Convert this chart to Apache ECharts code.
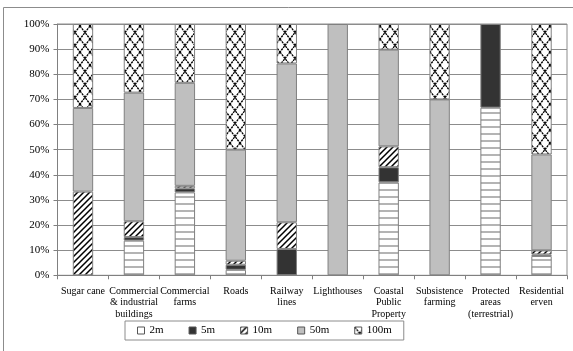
<!DOCTYPE html>
<html>
<head>
<meta charset="utf-8">
<script src="https://cdn.jsdelivr.net/npm/echarts@6/dist/echarts.min.js"></script>
<style>
html,body{margin:0;padding:0;background:#fff;}
#chart{width:573px;height:351px;}
</style>
</head>
<body>
<div id="chart"></div>
<script>
const categories = ["Sugar cane", "Commercial\n& industrial\nbuildings", "Commercial\nfarms", "Roads", "Railway\nlines", "Lighthouses", "Coastal\nPublic\nProperty", "Subsistence\nfarming", "Protected\nareas\n(terrestrial)", "Residential\nerven"];
const seriesNames = ["2m", "5m", "10m", "50m", "100m"];
const values2m   = [0,    13.8, 33.0, 2.2,  0,    0,   37.0, 0,  66.7, 7.7];
const values5m   = [0,    1.4,  1.6,  2.0,  10.5, 0,   6.0,  0,  33.3, 0.6];
const values10m  = [33.3, 6.3,  1.0,  1.6,  10.6, 0,   8.3,  0,  0,    1.6];
const values50m  = [33.3, 51.2, 41.0, 44.2, 63.2, 100, 38.5, 70, 0,    38.2];
const values100m = [33.4, 27.3, 23.4, 50.0, 15.7, 0,   10.2, 30, 0,    51.9];
const yTicks = ["0%","10%","20%","30%","40%","50%","60%","70%","80%","90%","100%"];

function makeCanvas(w, h, draw) {
  const c = document.createElement('canvas');
  c.width = w; c.height = h;
  const ctx = c.getContext('2d');
  draw(ctx, w, h);
  return c;
}
const pat2m = makeCanvas(4, 7, (ctx, w, h) => {
  ctx.fillStyle = '#fff'; ctx.fillRect(0, 0, w, h);
  ctx.fillStyle = '#b4b4b4'; ctx.fillRect(0, 0, w, 2);
});
const pat10m = makeCanvas(6, 6, (ctx, w, h) => {
  ctx.fillStyle = '#fff'; ctx.fillRect(0, 0, w, h);
  ctx.strokeStyle = '#000'; ctx.lineWidth = 1.5;
  ctx.beginPath();
  ctx.moveTo(0, h); ctx.lineTo(w, 0);
  ctx.moveTo(-1, 1); ctx.lineTo(1, -1);
  ctx.moveTo(w - 1, h + 1); ctx.lineTo(w + 1, h - 1);
  ctx.stroke();
});
const pat100m = makeCanvas(10, 13, (ctx, w, h) => {
  ctx.fillStyle = '#fff'; ctx.fillRect(0, 0, w, h);
  ctx.strokeStyle = '#000'; ctx.lineWidth = 1.3;
  ctx.setLineDash([2.2, 0.8]);
  ctx.beginPath();
  ctx.moveTo(0, 0); ctx.lineTo(w, h);
  ctx.moveTo(w, 0); ctx.lineTo(0, h);
  ctx.stroke();
});

const fills = [
  {image: pat2m, repeat: 'repeat'},
  '#333333',
  {image: pat10m, repeat: 'repeat'},
  '#bfbfbf',
  {image: pat100m, repeat: 'repeat'}
];
const allValues = [values2m, values5m, values10m, values50m, values100m];
const font = 'Liberation Serif';

const chart = echarts.init(document.getElementById('chart'), null, {renderer: 'canvas'});
chart.setOption({
  animation: false,
  backgroundColor: '#fff',
  graphic: [{
    type: 'rect', silent: true, z: -10,
    shape: {x: 3.5, y: 7.5, width: 620, height: 400},
    style: {fill: 'none', stroke: '#8c8c8c', lineWidth: 1}
  }],
  grid: {left: 57.5, top: 24, right: 6, bottom: 75.7, show: true, borderColor: '#8c8c8c', borderWidth: 1, backgroundColor: 'transparent'},
  legend: {
    left: 125, top: 321,
    padding: [4, 12],
    borderColor: '#8c8c8c', borderWidth: 1,
    itemWidth: 7, itemHeight: 7, itemGap: 25,
    icon: 'rect',
    textStyle: {fontFamily: font, fontSize: 11, color: '#000'},
    data: [
      {name: '2m', itemStyle: {color: '#fff', borderColor: '#555', borderWidth: 1}},
      {name: '5m', itemStyle: {borderColor: '#555', borderWidth: 1}},
      {name: '10m', itemStyle: {borderColor: '#555', borderWidth: 1}},
      {name: '50m', itemStyle: {borderColor: '#555', borderWidth: 1}},
      {name: '100m', itemStyle: {borderColor: '#555', borderWidth: 1}}
    ]
  },
  xAxis: {
    type: 'category',
    data: categories,
    axisLine: {lineStyle: {color: '#808080'}},
    axisTick: {show: true, length: 4, lineStyle: {color: '#808080'}},
    axisLabel: {fontFamily: font, fontSize: 10, color: '#000', lineHeight: 11.5, margin: 10, interval: 0}
  },
  yAxis: {
    type: 'value', min: 0, max: 100, interval: 10,
    axisLine: {show: true, lineStyle: {color: '#808080'}},
    axisTick: {show: true, length: 4, lineStyle: {color: '#808080'}},
    axisLabel: {fontFamily: font, fontSize: 11, color: '#000', margin: 8,
      formatter: v => yTicks[Math.round(v / 10)]},
    splitLine: {lineStyle: {color: '#8c8c8c', width: 1}}
  },
  series: seriesNames.map((name, i) => ({
    name: name,
    type: 'bar',
    stack: 'total',
    barWidth: '40%',
    data: allValues[i].map(v => v === 0 ? null : v),
    itemStyle: {color: fills[i], borderColor: '#808080', borderWidth: 1}
  }))
});
</script>
</body>
</html>
